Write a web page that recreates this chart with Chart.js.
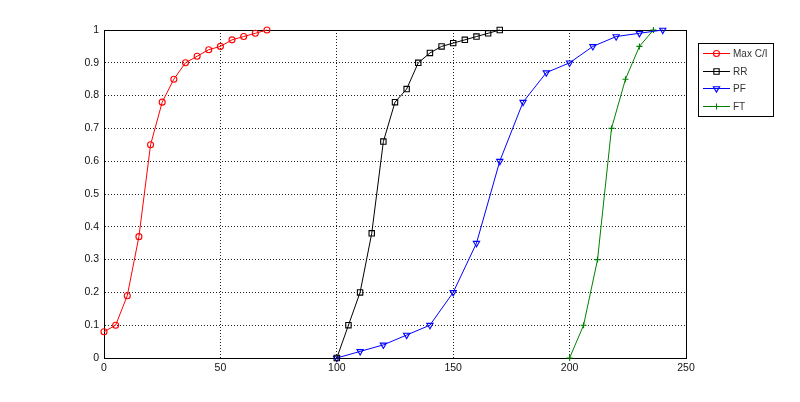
<!DOCTYPE html>
<html>
<head>
<meta charset="utf-8">
<script src="https://cdn.jsdelivr.net/npm/chart.js@4/dist/chart.umd.min.js"></script>
<style>
  html, body { margin: 0; padding: 0; background: #fff; }
  #wrap { width: 800px; height: 402px; }
</style>
</head>
<body>
<div id="wrap"><canvas id="chart" width="800" height="402"></canvas></div>
<script>
// datos
const maxCiX = [0, 5, 10, 15, 20, 25, 30, 35, 40, 45, 50, 55, 60, 65, 70];
const maxCiY = [0.08, 0.1, 0.19, 0.37, 0.65, 0.78, 0.85, 0.9, 0.92, 0.94, 0.95, 0.97, 0.98, 0.99, 1.0];

const rrX = [100, 105, 110, 115, 120, 125, 130, 135, 140, 145, 150, 155, 160, 165, 170];
const rrY = [0, 0.1, 0.2, 0.38, 0.66, 0.78, 0.82, 0.9, 0.93, 0.95, 0.96, 0.97, 0.98, 0.99, 1.0];

const pfX = [100, 110, 120, 130, 140, 150, 160, 170, 180, 190, 200, 210, 220, 230, 240];
const pfY = [0, 0.02, 0.04, 0.07, 0.1, 0.2, 0.35, 0.6, 0.78, 0.87, 0.9, 0.95, 0.98, 0.99, 1.0];

const ftX = [200, 206, 212, 218, 224, 230, 236];
const ftY = [0, 0.1, 0.3, 0.7, 0.85, 0.95, 1.0];

const seriesNames = ["Max C/I", "RR", "PF", "FT"];
const xTicks = [0, 50, 100, 150, 200, 250];

function toPoints(xs, ys) {
  return xs.map((x, i) => ({ x: x, y: ys[i] }));
}

const FONT = "'Liberation Sans', Arial, sans-serif";

function serie(label, xs, ys, color, style, radius, rotation) {
  return {
    label: label,
    data: toPoints(xs, ys),
    showLine: true,
    borderColor: color,
    borderWidth: 1,
    pointStyle: style,
    pointRadius: radius,
    pointRotation: rotation || 0,
    pointBorderColor: color,
    pointBackgroundColor: "rgba(0,0,0,0)",
    pointBorderWidth: 1.1,
    tension: 0,
    clip: false,
  };
}

// leyenda estilo matlab, dentro de un recuadro a la derecha
const legendBox = {
  id: "legendBox",
  beforeDatasetsDraw(chart) {
    const ctx = chart.ctx;
    const area = chart.chartArea;
    ctx.save();
    // marco de los ejes
    ctx.strokeStyle = "#000";
    ctx.lineWidth = 1;
    ctx.strokeRect(Math.round(area.left) + 0.5, Math.round(area.top) + 0.5,
      Math.round(area.right - area.left), Math.round(area.bottom - area.top));
    ctx.restore();
  },
  afterDraw(chart) {
    const ctx = chart.ctx;
    ctx.save();
    const x0 = 698, y0 = 43, w = 75, h = 73;
    ctx.fillStyle = "#fff";
    ctx.fillRect(x0, y0, w, h);
    ctx.strokeStyle = "#000";
    ctx.lineWidth = 1;
    ctx.strokeRect(x0 + 0.5, y0 + 0.5, w, h);

    ctx.font = "10px " + FONT;
    ctx.textBaseline = "middle";
    chart.data.datasets.forEach((ds, i) => {
      const yy = Math.round(53 + i * 17.7) + 0.5;
      ctx.strokeStyle = ds.borderColor;
      ctx.lineWidth = 1;
      ctx.beginPath();
      ctx.moveTo(703, yy);
      ctx.lineTo(730, yy);
      ctx.stroke();
      ctx.lineWidth = ds.pointBorderWidth;
      ctx.fillStyle = "rgba(0,0,0,0)";
      Chart.helpers.drawPoint(ctx, {
        pointStyle: ds.pointStyle,
        rotation: ds.pointRotation,
        radius: ds.pointRadius,
        borderWidth: ds.pointBorderWidth,
      }, 716.5, yy);
      ctx.fillStyle = "#333";
      ctx.fillText(seriesNames[i], 733, yy + 0.5);
    });
    ctx.restore();
  },
};

const chartCanvas = document.getElementById("chart").getContext("2d");

const chart = new Chart(chartCanvas, {
  type: "scatter",
  data: {
    datasets: [
      serie(seriesNames[0], maxCiX, maxCiY, "#ff0000", "circle", 3),
      serie(seriesNames[1], rrX, rrY, "#000000", "rect", 3.8),
      serie(seriesNames[2], pfX, pfY, "#0000ff", "triangle", 3.6, 180),
      serie(seriesNames[3], ftX, ftY, "#008000", "cross", 3),
    ],
  },
  options: {
    responsive: false,
    animation: false,
    layout: { padding: { top: 30, right: 114, left: 0, bottom: 0 } },
    plugins: {
      legend: { display: false },
      tooltip: { enabled: false },
    },
    scales: {
      x: {
        type: "linear",
        min: 0,
        max: 250,
        afterBuildTicks: (scale) => {
          scale.ticks = xTicks.map((v) => ({ value: v }));
        },
        afterFit: (scale) => { scale.height = 44; },
        ticks: {
          color: "#111",
          font: { family: FONT, size: 10.5 },
          padding: 4,
          maxRotation: 0,
        },
        grid: {
          color: "#222",
          lineWidth: 1,
          drawTicks: false,
        },
        border: { display: true, color: "#000", dash: [1, 2] },
      },
      y: {
        min: 0,
        max: 1,
        afterFit: (scale) => { scale.width = 104; },
        ticks: {
          stepSize: 0.1,
          color: "#111",
          font: { family: FONT, size: 10.5 },
          padding: 5,
          callback: (v) => String(Math.round(v * 10) / 10),
        },
        grid: {
          color: "#222",
          lineWidth: 1,
          drawTicks: false,
        },
        border: { display: true, color: "#000", dash: [1, 2] },
      },
    },
  },
  plugins: [legendBox],
});
</script>
</body>
</html>
